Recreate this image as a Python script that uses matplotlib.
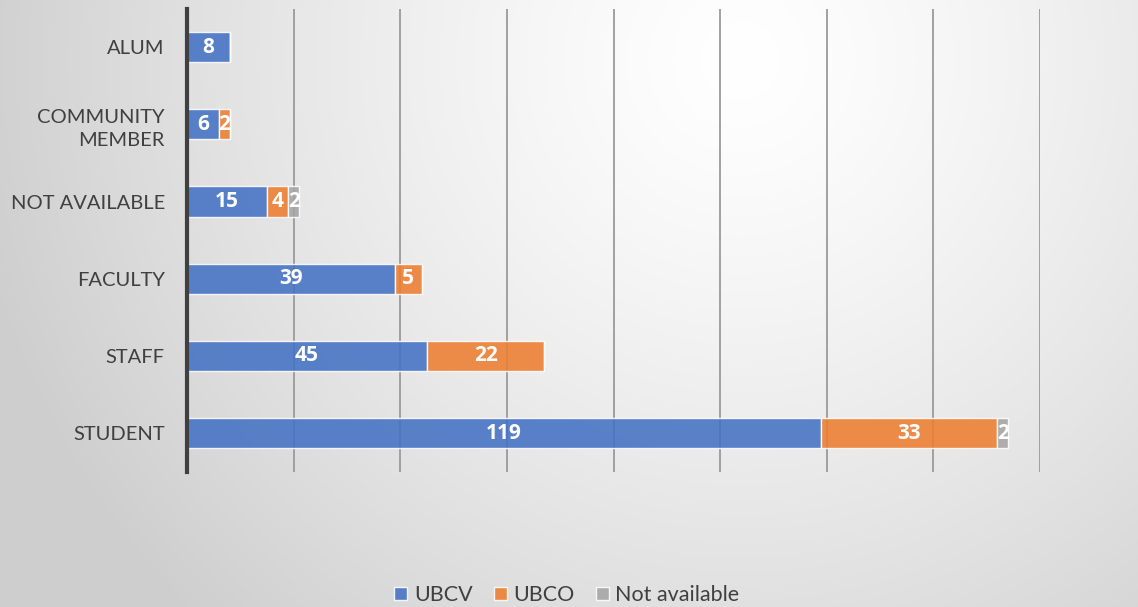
import numpy as np
import matplotlib
matplotlib.use("Agg")
import matplotlib.pyplot as plt

categories = ["ALUM", "COMMUNITY\nMEMBER", "NOT AVAILABLE", "FACULTY", "STAFF", "STUDENT"]
ubcv = [8, 6, 15, 39, 45, 119]
ubco = [0, 2, 4, 5, 22, 33]
not_avail = [0, 0, 2, 0, 0, 2]
series_names = ["UBCV", "UBCO", "Not available"]
colors = ["#4472C4", "#ED7D31", "#A5A5A5"]

plt.rcParams['font.family'] = ['Lato', 'DejaVu Sans']

W, H = 1138, 607
fig = plt.figure(figsize=(W / 100, H / 100), dpi=100)

# radial gradient background
bg = fig.add_axes([0, 0, 1, 1], zorder=-10)
yy, xx = np.mgrid[0:H, 0:W]
d = np.sqrt(((xx - 740) / 1.0) ** 2 + ((yy - 60) / 1.0) ** 2)
t = np.clip(d / 780, 0, 1)
v = 1.0 - 0.19 * t ** 1.3
img = np.dstack([v, v, v])
bg.imshow(img, aspect='auto', extent=[0, 1, 0, 1], origin='upper')
bg.axis('off')

ax = fig.add_axes([187 / W, (H - 471.6) / H, (1040 - 187) / W, 463 / H])
ax.patch.set_alpha(0)

y = np.arange(len(categories))
left = np.zeros(len(categories))
for vals, col, name in zip([ubcv, ubco, not_avail], colors, series_names):
    vals = np.array(vals, dtype=float)
    bars = ax.barh(y, vals, left=left, height=0.39, color=col, alpha=0.88,
                   edgecolor=(1, 1, 1, 0.6), linewidth=1, label=name, zorder=3)
    for b, val in zip(bars, vals):
        if val > 0:
            ax.text(b.get_x() + b.get_width() / 2, b.get_y() + b.get_height() / 2,
                    f"{int(val)}", ha='center', va='center', color='white',
                    fontsize=15, fontweight='bold', family=['Open Sans', 'DejaVu Sans'],
                    zorder=4)
    left += vals

ax.set_xlim(0, 160)
ax.set_ylim(5.5, -0.5)
ax.set_xticks(np.arange(0, 161, 20))
ax.set_xticklabels([])
ax.tick_params(axis='x', length=0)
ax.tick_params(axis='y', length=0, pad=16, labelsize=14.5, labelcolor='#404040')
ax.set_yticks(y)
ax.set_yticklabels(categories, linespacing=1.45)
ax.grid(axis='x', color='#9A9A9A', linewidth=1.3, zorder=1)
for s in ['top', 'right', 'bottom']:
    ax.spines[s].set_visible(False)
ax.spines['left'].set_color('#404040')
ax.spines['left'].set_linewidth(3)
ax.spines['left'].set_zorder(5)

leg = fig.legend(loc='center', bbox_to_anchor=(567 / W, 1 - 595 / H), ncol=3,
                 frameon=False, fontsize=15.5, handlelength=0.6, handleheight=0.6,
                 handletextpad=0.3, columnspacing=1.0, labelcolor='#404040')

fig.savefig("out.png", dpi=100)
